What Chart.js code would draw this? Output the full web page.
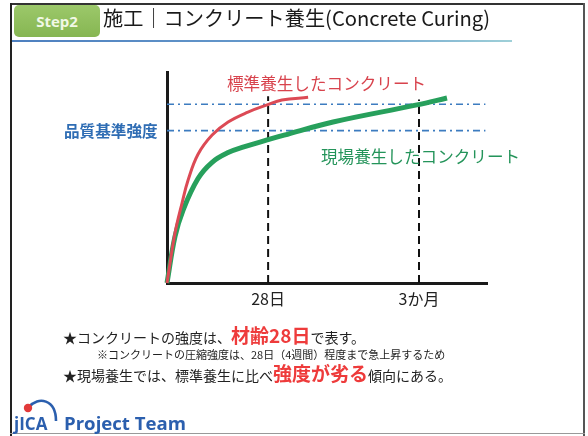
<!DOCTYPE html>
<html lang="ja">
<head>
<meta charset="utf-8">
<script src="https://cdn.jsdelivr.net/npm/chart.js@4/dist/chart.umd.min.js"></script>
<style>
  html, body { margin: 0; padding: 0; background: #fff; }
  #slide {
    position: relative; width: 588px; height: 436px; overflow: hidden;
    font-family: "Noto Sans CJK JP", "Noto Sans", sans-serif; color: #222;
  }
  #slide canvas { position: absolute; left: 0; top: 0; }
  .abs { position: absolute; white-space: nowrap; line-height: 1; }
  .frame-top { left: 11px; top: 3px; width: 573px; height: 2px; background: #333; }
  .frame-left { left: 10px; top: 3px; width: 2px; height: 433px; background: #222; }
  .frame-right { left: 583px; top: 3px; width: 2px; height: 433px; background: #555; }
  .frame-bottom { left: 10px; top: 433px; width: 575px; height: 1px; background: #999; }
  .underline { left: 12px; top: 40px; width: 500px; height: 2px;
    background: linear-gradient(90deg, #4d7fbf, #6fa3cf 70%, #9fd0d8); }
  .step {
    left: 14px; top: 5px; width: 86px; height: 32px; border-radius: 5px;
    background: linear-gradient(#9cc86a, #86b652); color: #f1f8e6;
    font: bold 15px "Open Sans", "Noto Sans", sans-serif;
    display: flex; align-items: center; justify-content: center;
  }
  .title { left: 103px; top: 8px; font-size: 20.2px; color: #1a1a1a; }
  .lbl-std { left: 227px; top: 75px; font-size: 16.6px; color: #d8434d; }
  .lbl-site { left: 321px; top: 148px; font-size: 16.6px; color: #24945a; }
  .lbl-base { left: 64px; top: 123px; font-size: 15.6px; color: #2f6db4; font-weight: bold; }
  .note { line-height: 20px; height: 20px; }
  .note1 { left: 63px; top: 325px; font-size: 14px; }
  .note2 { left: 97px; top: 347px; font-size: 11px; line-height: 14px; height: 14px; }
  .note3 { left: 63px; top: 363px; font-size: 14px; }
  .hl { color: #ee3b3b; font-weight: bold; font-size: 19px; line-height: 1; }
  .team { left: 64px; top: 410px; font: bold 18.6px "Open Sans", "Noto Sans", sans-serif; color: #2b5fae; }
  .logo { left: 12px; top: 396px; }
</style>
</head>
<body>
<div id="slide">
  <canvas id="curingChart" width="588" height="436"></canvas>

  <div class="abs frame-top"></div>
  <div class="abs frame-left"></div>
  <div class="abs frame-right"></div>
  <div class="abs frame-bottom"></div>
  <div class="abs underline"></div>
  <div class="abs step">Step2</div>
  <div class="abs title">施工｜コンクリート養生(Concrete Curing)</div>

  <div class="abs lbl-std">標準養生したコンクリート</div>
  <div class="abs lbl-site">現場養生したコンクリート</div>
  <div class="abs lbl-base">品質基準強度</div>

  <div class="abs note note1">★コンクリートの強度は、<span class="hl">材齢28日</span>で表す。</div>
  <div class="abs note note2">※コンクリートの圧縮強度は、28日（4週間）程度まで急上昇するため</div>
  <div class="abs note note3">★現場養生では、標準養生に比べ<span class="hl">強度が劣る</span>傾向にある。</div>

  <svg class="abs logo" width="50" height="38" viewBox="0 0 50 38">
    <path d="M17 11 C 26 0, 44 3, 44 25" fill="none" stroke="#2b5fae" stroke-width="2.6"/>
    <circle cx="16" cy="12" r="4.2" fill="#e23a3a"/>
    <text x="2" y="34" font-family="Open Sans, sans-serif" font-weight="bold" font-size="17" fill="#2b5fae">jICA</text>
  </svg>
  <div class="abs team">Project Team</div>
</div>

<script>
// strength curves (x: elapsed time on the sketch axis, y: strength)
const stdX   = [0, 0.25, 0.47, 0.66, 0.97, 1.41, 1.91, 2.53, 3.13, 3.59, 4.41];
const stdY   = [0, 2.37, 3.79, 4.88, 6.10, 7.01, 7.63, 8.10, 8.44, 8.67, 8.80];
const siteX  = [0, 0.25, 0.50, 0.97, 1.41, 1.91, 2.40, 3.13, 3.66, 5.19, 7.81, 8.75];
const siteY  = [0, 2.20, 3.45, 4.95, 5.72, 6.18, 6.45, 6.78, 7.01, 7.63, 8.44, 8.77];

// reference strength levels (dash-dot lines)
const levelY = [8.47, 7.22];

// time markers on the x axis
const tickX      = [3.16, 7.875];
const tickLabels = ['28日', '3か月'];
const markerTop  = [8.85, 8.7];

const toPoints = (xs, ys) => xs.map((x, i) => ({ x: x, y: ys[i] }));

const datasets = [
    { data: toPoints(stdX, stdY), borderColor: '#dc4a55', borderWidth: 3, tension: 0.4 },
    { data: toPoints(siteX, siteY), borderColor: '#27a05c', borderWidth: 5, tension: 0.4 }
];

levelY.forEach(y => {
    datasets.push({ data: [{ x: 0, y: y }, { x: 9.95, y: y }],
        borderColor: '#3d7cc0', borderWidth: 1.6, borderDash: [7, 4, 2, 4] });
});

tickX.forEach((x, i) => {
    datasets.push({ data: [{ x: x, y: 0 }, { x: x, y: markerTop[i] }],
        borderColor: '#111', borderWidth: 2, borderDash: [8, 5] });
});

new Chart(document.getElementById('curingChart'), {
    type: 'line',
    data: { datasets: datasets.map(d => Object.assign({ pointRadius: 0, fill: false, clip: false }, d)) },
    options: {
        responsive: false,
        animation: false,
        layout: { padding: { left: 167, top: 72, right: 101, bottom: 121 } },
        plugins: { legend: { display: false }, tooltip: { enabled: false } },
        scales: {
            x: {
                type: 'linear', min: 0, max: 10,
                grid: { display: false },
                border: { display: true, color: '#1a1a1a', width: 3 },
                afterBuildTicks: scale => { scale.ticks = tickX.map(v => ({ value: v })); },
                afterFit: scale => { scale.height = 32; },
                ticks: {
                    padding: -2,
                    color: '#222',
                    font: { family: '"Noto Sans CJK JP", sans-serif', size: 16 },
                    callback: (value, index) => tickLabels[index]
                }
            },
            y: {
                min: 0, max: 10,
                grid: { display: false },
                border: { display: true, color: '#1a1a1a', width: 3 },
                afterFit: scale => { scale.width = 0; },
                ticks: { display: false }
            }
        }
    }
});
</script>
</body>
</html>
